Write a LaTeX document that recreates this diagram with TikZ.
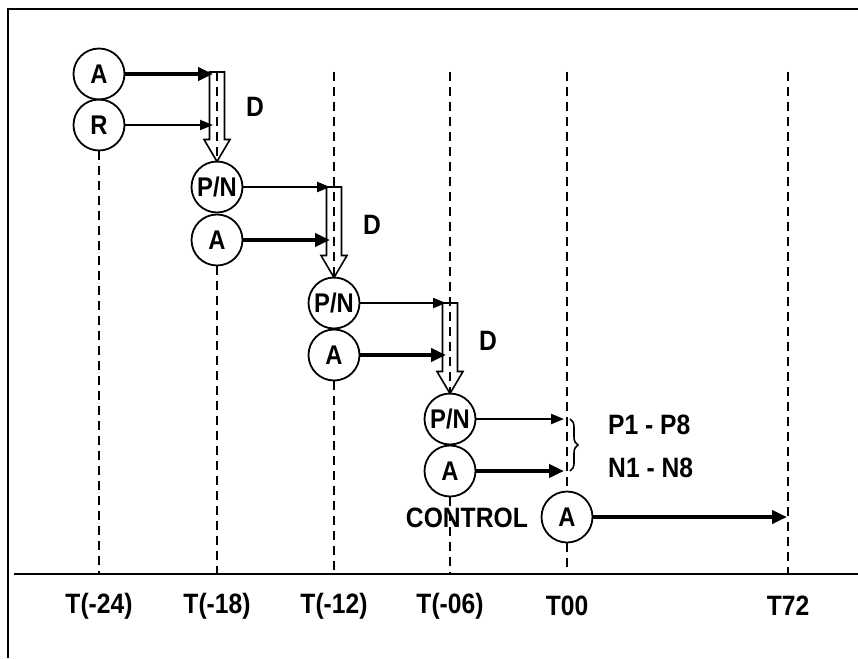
\documentclass[tikz,border=0pt]{standalone}
\usepackage{fontspec}
\setmainfont[FakeStretch=0.88]{Liberation Sans}
\usetikzlibrary{arrows.meta,decorations.pathreplacing}
\newcommand\hollowarrow[3]{%
  \filldraw[fill=white,draw=black,line width=1.6pt]
    ({#1-7.5},#2) -- ({#1+7.5},#2) -- ({#1+7.5},{#3-22}) -- ({#1+13},{#3-22})
    -- (#1,#3) -- ({#1-13},{#3-22}) -- ({#1-7.5},{#3-22}) -- cycle;}
\begin{document}
\begin{tikzpicture}[x=1pt,y=-1pt,
  lbl/.style={font=\fontsize{28}{32}\selectfont\bfseries, inner sep=0pt},
  circ/.style={circle, draw, line width=1.8pt, minimum size=51pt, inner sep=0pt,
    font=\fontsize{27}{31}\selectfont\bfseries},
  vdash/.style={dashed, dash pattern=on 9pt off 6pt, line width=1.8pt},
  thickarr/.style={line width=4.2pt, -{Triangle[length=15pt,width=13pt]}},
  thinarr/.style={line width=2.2pt, -{Triangle[length=13pt,width=10pt]}}]
\useasboundingbox (0,0) rectangle (858,658);
% frame
\draw[line width=2.4pt] (8,658) -- (8,9) -- (858,9);
% axis
\coordinate (axl) at (14,574);
\coordinate (axr) at (858,574);
\draw[line width=2.4pt] (axl) -- (axr);
% axis foot coordinates
\foreach \n/\x in {1/99,2/217,3/334,4/450,5/567,6/788}{
  \coordinate (b\n) at (\x,574);
  \coordinate (t\n) at (\x,72);
}
% hollow arrows (drawn under dashed lines)
\hollowarrow{217}{72}{161.5}
\hollowarrow{334}{187}{277.5}
\hollowarrow{450}{303}{393.5}
% circles
\node[circ] (a1) at (99,74) {A};
\node[circ] (r1) at (99,125) {R};
\node[circ] (p2) at (217,187) {P/N};
\node[circ] (a2) at (217,240) {A};
\node[circ] (p3) at (334,303) {P/N};
\node[circ] (a3) at (334,355) {A};
\node[circ] (p4) at (450,419) {P/N};
\node[circ] (a4) at (450,471) {A};
\node[circ] (c5) at (567,517) {A};
% dashed vertical lines
\draw[vdash] (r1.south) -- (b1);
\draw[vdash] (t2) -- (p2.north);
\draw[vdash] (a2.south) -- (b2);
\draw[vdash] (t3) -- (p3.north);
\draw[vdash] (a3.south) -- (b3);
\draw[vdash] (t4) -- (p4.north);
\draw[vdash] (a4.south) -- (b4);
\draw[vdash] (t5) -- (c5.north);
\draw[vdash] (c5.south) -- (b5);
\draw[vdash] (t6) -- (b6);
% arrow end points
\coordinate (e1a) at (213,74);
\coordinate (e1r) at (213,125);
\coordinate (e2p) at (330,187);
\coordinate (e2a) at (330,240);
\coordinate (e3p) at (446,303);
\coordinate (e3a) at (446,355);
\coordinate (e4p) at (564,419);
\coordinate (e4a) at (564,471);
\coordinate (e5) at (787,517);
% arrows
\draw[thickarr] (a1) -- (e1a);
\draw[thinarr] (r1) -- (e1r);
\draw[thinarr] (p2) -- (e2p);
\draw[thickarr] (a2) -- (e2a);
\draw[thinarr] (p3) -- (e3p);
\draw[thickarr] (a3) -- (e3a);
\draw[thinarr] (p4) -- (e4p);
\draw[thickarr] (a4) -- (e4a);
\draw[thickarr] (c5) -- (e5);
% D labels
\node[lbl] (d1) at (255,107) {D};
\node[lbl] (d2) at (372,225) {D};
\node[lbl] (d3) at (488,341) {D};
% brace and P/N labels
\coordinate (bt) at (570,419);
\coordinate (bb) at (570,471);
\draw[line width=1.6pt, decorate, decoration={brace, amplitude=8pt}] (bt) -- (bb);
\node[lbl, anchor=west] (pl) at (608,425) {P1 - P8};
\node[lbl, anchor=west] (nl) at (608,468) {N1 - N8};
% control
\node[lbl, anchor=east] (ctl) at (528,518) {CONTROL};
% time labels
\node[lbl] (l1) at (99,606) {T(-24)};
\node[lbl] (l2) at (217,606) {T(-18)};
\node[lbl] (l3) at (334,606) {T(-12)};
\node[lbl] (l4) at (450,606) {T(-06)};
\node[lbl] (l5) at (567,606) {T00};
\node[lbl] (l6) at (788,606) {T72};
\end{tikzpicture}
\end{document}
